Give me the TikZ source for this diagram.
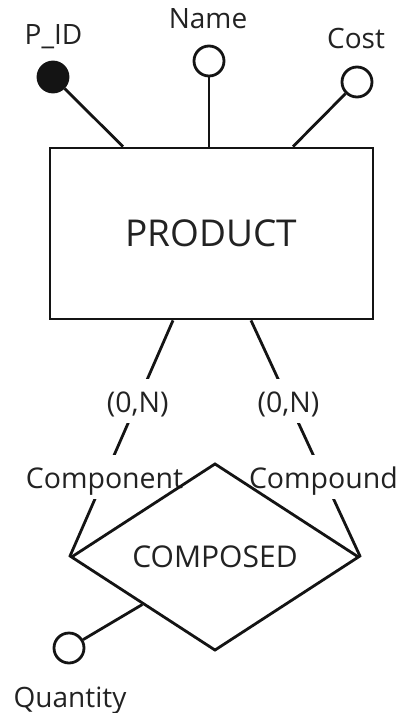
\documentclass[tikz,border=0pt]{standalone}
\usepackage{fontspec}
\setmainfont{Open Sans}
\usetikzlibrary{shapes.geometric, positioning, backgrounds}
\definecolor{inkblack}{HTML}{141414}
\definecolor{txtgray}{HTML}{222222}

\tikzset{
  entity/.style={draw, rectangle, minimum width=323pt, minimum height=171pt,
    inner sep=0pt, text=txtgray, font=\fontsize{37}{41}\selectfont},
  relation/.style={draw, diamond, minimum width=288pt, minimum height=168pt,
    inner sep=0pt, text=txtgray, font=\fontsize{30}{34}\selectfont},
  attr/.style={draw, circle, fill=white, minimum size=30pt, inner sep=0pt},
  keyattr/.style={attr, fill=inkblack},
  attrname/.style={text=txtgray, inner sep=0pt, anchor=base,
    font=\fontsize{28}{32}\selectfont},
  link/.style={draw=inkblack, line width=2.8pt},
  rolebox/.style={fill=white, text=txtgray, inner xsep=2pt, inner ysep=3pt,
    text height=30.5pt, text depth=7.5pt, font=\fontsize{28.5}{32}\selectfont}
}

\begin{document}
\begin{tikzpicture}[x=1pt, y=-1pt, line width=2.8pt, color=inkblack]

\useasboundingbox (0,0) rectangle (403,713);

% Entity and relationship
\node[entity] (product) at (211.5,233.5) {PRODUCT};
\node[relation] (composed) at (215,557) {COMPOSED};

% Attributes of PRODUCT
\node[keyattr] (pid) at (53,77) {};
\node[attr] (name) at (209,61) {};
\node[attr] (cost) at (357,82) {};
\node[attrname] (pidlbl) at (53.5,44) {P\_ID};
\node[attrname] (namelbl) at (208,28) {Name};
\node[attrname] (costlbl) at (356,48) {Cost};

\draw (pid) -- ([xshift=-88.5pt]product.north);
\draw (name) -- (name |- product.north);
\draw (cost) -- ([xshift=81.5pt]product.north);

% Attribute of COMPOSED
\node[attr] (qty) at (69,648) {};
\node[attrname] (qtylbl) at (70,707) {Quantity};
\draw (qty) -- (composed.south west);

% Roles with cardinalities (under the diamond outline)
\begin{pgfonlayer}{background}
\draw[link] ([xshift=-38.5pt]product.south) --
  node[rolebox, pos=0.342] (cardcomp) {(0,N)}
  node[rolebox, pos=0.662] (rolecomp) {Component} (composed.west);
\draw[link] ([xshift=39.5pt]product.south) --
  node[rolebox, pos=0.342] (cardcpd) {(0,N)}
  node[rolebox, pos=0.662] (rolecpd) {Compound} (composed.east);
\end{pgfonlayer}

\end{tikzpicture}
\end{document}
